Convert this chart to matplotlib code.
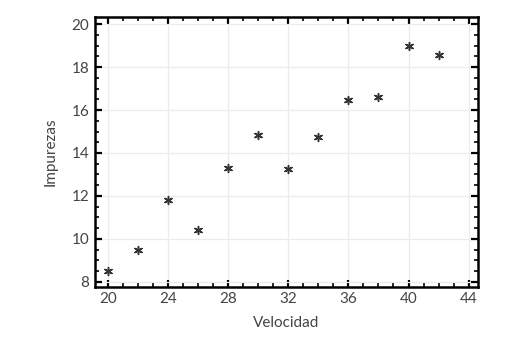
import matplotlib
matplotlib.use("Agg")
import matplotlib.pyplot as plt
from matplotlib.ticker import MultipleLocator

velocidad = [20, 22, 24, 26, 28, 30, 32, 34, 36, 38, 40, 42]
impurezas = [8.5, 9.48, 11.81, 10.41, 13.29, 14.84, 13.24, 14.76, 16.47, 16.60, 19.0, 18.57]
x_ticks = [20, 24, 28, 32, 36, 40, 44]
y_ticks = [8, 10, 12, 14, 16, 18, 20]

plt.rcParams['font.family'] = ['Lato', 'DejaVu Sans']

fig = plt.figure(figsize=(5.14, 3.45), dpi=100)
ax = fig.add_axes([0.1848, 0.169, 0.7446, 0.7826])

ax.scatter(velocidad, impurezas, marker=(6, 2, 0), s=32, color='#333333',
           linewidths=1.1, zorder=3)

ax.set_xlim(19.15, 44.6)
ax.set_ylim(7.77, 20.35)
ax.set_xticks(x_ticks)
ax.set_yticks(y_ticks)
ax.xaxis.set_minor_locator(MultipleLocator(1))
ax.yaxis.set_minor_locator(MultipleLocator(0.5))

ax.grid(True, which='major', color='#ececec', linewidth=0.9, zorder=0)
ax.set_axisbelow(True)

for s in ax.spines.values():
    s.set_linewidth(1.8)
    s.set_color('black')

ax.tick_params(which='both', direction='in', top=True, right=True,
               color='black', labelcolor='#444444', labelsize=11)
ax.tick_params(which='major', length=5, width=1.6, pad=4)
ax.tick_params(which='minor', length=3, width=1.2)

ax.set_xlabel('Velocidad', fontsize=11, color='#444444', labelpad=7)
ax.set_ylabel('Impurezas', fontsize=11, color='#444444', labelpad=10)

fig.savefig('out.png', dpi=100)
